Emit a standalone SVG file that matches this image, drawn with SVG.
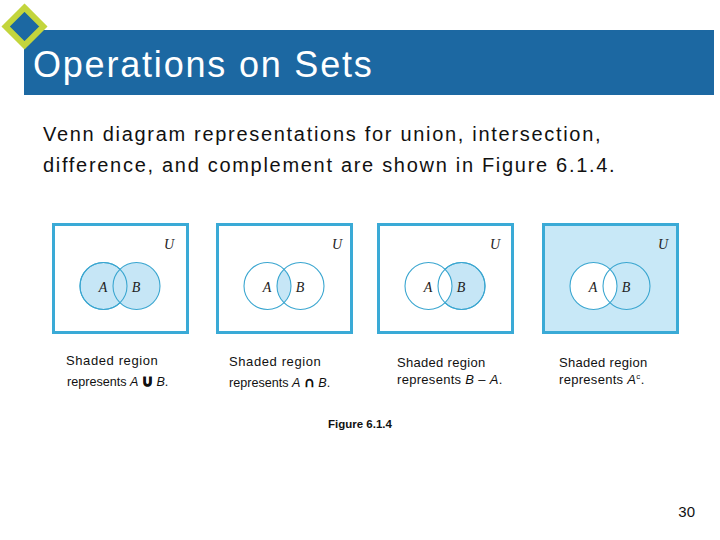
<svg xmlns="http://www.w3.org/2000/svg" width="720" height="540" viewBox="0 0 720 540">
<style>
.box{fill:#ffffff;stroke:#3aaad6;stroke-width:3}
.c{stroke:#3aa6d0;stroke-width:1.1}
.sh{fill:#c6e6f6}
.wh{fill:#ffffff}
.no{fill:none}
.lab{font-family:"Liberation Sans",serif;font-family:"Liberation Serif",serif;font-style:italic;font-size:14px;fill:#222;text-anchor:middle}
.cap{font-family:"Liberation Sans",Arial,sans-serif;font-size:13px;fill:#111;letter-spacing:0.6px}
.cap1{font-family:"Liberation Sans",Arial,sans-serif;font-size:12.6px;fill:#111}
.cap2{font-family:"Liberation Sans",Arial,sans-serif;font-size:13px;fill:#111;letter-spacing:0.3px}
.it{font-style:italic}
.op{font-weight:bold;font-size:15px;stroke:#111;stroke-width:0.9}
.body{font-family:"Liberation Sans",Arial,sans-serif;font-size:20px;fill:#111;letter-spacing:1.7px}
</style>
<rect width="720" height="540" fill="#ffffff"/>
<g id="title">
<rect x="24" y="30" width="690" height="65" fill="#1c68a2"/>
<polygon points="24.5,7.7 43.3,26.5 24.5,45.3 5.7,26.5" fill="#1c68a2" stroke="#c3d53c" stroke-width="6"/>
<text x="33" y="77" font-family="Liberation Sans,Arial,sans-serif" font-size="36" fill="#ffffff" letter-spacing="1.8">Operations on Sets</text>
</g>
<g id="intro">
<text class="body" x="43" y="141">Venn diagram representations for union, intersection,</text>
<text class="body" x="43" y="172">difference, and complement are shown in Figure 6.1.4.</text>
</g>
<g id="union">
<rect class="box" x="53.5" y="224.5" width="134" height="108"/>
<circle class="c sh" cx="103.5" cy="286" r="23.5"/>
<circle class="c sh" cx="136.5" cy="286" r="23.5"/>
<circle class="c no" cx="103.5" cy="286" r="23.5"/>
<text class="lab" x="169" y="249">U</text>
<text class="lab" x="103" y="291.5">A</text>
<text class="lab" x="136" y="291.5">B</text>
<text class="cap" x="66" y="365">Shaded region</text>
<text class="cap1" x="67" y="386">represents <tspan class="it">A</tspan> <tspan class="op">∪</tspan> <tspan class="it">B</tspan>.</text>
</g>
<g id="intersection">
<rect class="box" x="217.5" y="224.5" width="134" height="108"/>
<path class="sh" d="M284,269.27 A23.5,23.5 0 0 1 284,302.73 A23.5,23.5 0 0 1 284,269.27 Z"/>
<circle class="c no" cx="267.5" cy="286" r="23.5"/>
<circle class="c no" cx="300.5" cy="286" r="23.5"/>
<text class="lab" x="337" y="249">U</text>
<text class="lab" x="267" y="291.5">A</text>
<text class="lab" x="300" y="291.5">B</text>
<text class="cap" x="229" y="366">Shaded region</text>
<text class="cap1" x="229" y="387">represents <tspan class="it">A</tspan> <tspan class="op">∩</tspan> <tspan class="it">B</tspan>.</text>
</g>
<g id="difference">
<rect class="box" x="378.5" y="224.5" width="134" height="108"/>
<circle class="c sh" cx="461.5" cy="286" r="23.5"/>
<circle class="c wh" cx="428.5" cy="286" r="23.5"/>
<circle class="c no" cx="461.5" cy="286" r="23.5"/>
<text class="lab" x="495" y="249">U</text>
<text class="lab" x="428" y="291.5">A</text>
<text class="lab" x="461" y="291.5">B</text>
<text class="cap2" x="397" y="367">Shaded region</text>
<text class="cap2" x="397" y="384">represents <tspan class="it">B</tspan> – <tspan class="it">A</tspan>.</text>
</g>
<g id="complement">
<rect class="box" x="543.5" y="224.5" width="134" height="108" style="fill:#c8e8f7"/>
<circle class="c wh" cx="593.5" cy="286" r="23.5"/>
<circle class="c no" cx="626.5" cy="286" r="23.5"/>
<text class="lab" x="663" y="249">U</text>
<text class="lab" x="593" y="291.5">A</text>
<text class="lab" x="626" y="291.5">B</text>
<text class="cap2" x="559" y="367">Shaded region</text>
<text class="cap2" x="559" y="384">represents <tspan class="it">A</tspan><tspan font-size="8" dy="-5">c</tspan><tspan dy="5">.</tspan></text>
</g>
<g id="caption">
<text x="328" y="428" font-family="Liberation Sans,Arial,sans-serif" font-size="11.5" font-weight="bold" fill="#111">Figure 6.1.4</text>
</g>
<g id="page">
<text x="695" y="517" font-family="Liberation Sans,Arial,sans-serif" font-size="15" fill="#111" text-anchor="end">30</text>
</g>
</svg>
